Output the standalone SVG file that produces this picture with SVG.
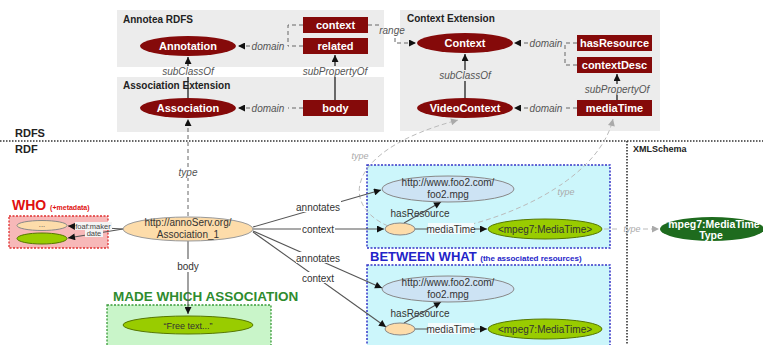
<svg xmlns="http://www.w3.org/2000/svg" width="763" height="345" viewBox="0 0 763 345">
<defs>
<marker id="ah" viewBox="0 0 10 10" refX="10" refY="5" markerWidth="8" markerHeight="7" markerUnits="userSpaceOnUse" orient="auto"><path d="M0,0 L10,5 L0,10 z" fill="#111"/></marker>
<marker id="ahg" viewBox="0 0 10 10" refX="10" refY="5" markerWidth="8" markerHeight="7" markerUnits="userSpaceOnUse" orient="auto"><path d="M0,0 L10,5 L0,10 z" fill="#aaa"/></marker>
</defs>
<style>
.panel{fill:#ececec}
.cls{fill:#850a0a}
.wt{font-family:"Liberation Sans",Arial,sans-serif;font-weight:bold;font-size:11px;fill:#fff;text-anchor:middle}
.pt{font-family:"Liberation Sans",Arial,sans-serif;font-weight:bold;font-size:10px;fill:#222}
.it{font-family:"Liberation Sans",Arial,sans-serif;font-style:italic;font-size:10px;fill:#555;text-anchor:middle}
.git{font-family:"Liberation Sans",Arial,sans-serif;font-style:italic;font-size:9px;fill:#aaa;text-anchor:middle}
.t{font-family:"Liberation Sans",Arial,sans-serif;font-size:10px;fill:#333;text-anchor:middle}
.ts{font-family:"Liberation Sans",Arial,sans-serif;font-size:7.5px;fill:#444;text-anchor:middle}
.dl{stroke:#666;stroke-width:1;stroke-dasharray:4,3;fill:none}
.sl{stroke:#222;stroke-width:1.3;fill:none}
.ln{stroke:#555;stroke-width:1.1;fill:none}
.gd{stroke:#bbb;stroke-width:1;stroke-dasharray:5,3;fill:none}
.sep{stroke:#333;stroke-width:1.6;stroke-dasharray:1.5,1.5;fill:none}
</style>

<!-- panels -->
<rect class="panel" x="117" y="10" width="267" height="57"/>
<rect class="panel" x="117" y="77" width="267" height="55"/>
<rect class="panel" x="400" y="10" width="260" height="121"/>
<text class="pt" x="123" y="23">Annotea RDFS</text>
<text class="pt" x="123" y="89">Association Extension</text>
<text class="pt" x="407" y="22">Context Extension</text>

<!-- separators -->
<line class="sep" x1="0" y1="141" x2="763" y2="141"/>
<line class="sep" x1="627" y1="141" x2="627" y2="345"/>
<text class="pt" x="15" y="137" style="font-size:11px">RDFS</text>
<text class="pt" x="15" y="153" style="font-size:11px">RDF</text>
<text class="pt" x="633" y="152" style="font-size:9px">XMLSchema</text>

<!-- lower boxes -->
<rect x="9" y="216" width="99" height="32" fill="#f7b8b8" stroke="#e03030" stroke-width="1.3" stroke-dasharray="2,1.5"/>
<text x="12" y="210" font-family="Liberation Sans, Arial, sans-serif" font-weight="bold" font-size="14px" fill="#e01010">WHO <tspan font-size="7px">(+metadata)</tspan></text>
<rect x="107" y="305" width="164" height="45" fill="#c9f5c9" stroke="#3a9a3a" stroke-width="1.3" stroke-dasharray="2,1.5"/>
<text x="113" y="301" font-family="Liberation Sans, Arial, sans-serif" font-weight="bold" font-size="13.5px" fill="#2e8b2e">MADE WHICH ASSOCIATION</text>
<rect x="367" y="165" width="243" height="83" fill="#ccf6fb" stroke="#3535c8" stroke-width="1.5" stroke-dasharray="2,1.5"/>
<rect x="367" y="265" width="243" height="85" fill="#ccf6fb" stroke="#3535c8" stroke-width="1.5" stroke-dasharray="2,1.5"/>
<text x="370" y="261" font-family="Liberation Sans, Arial, sans-serif" font-weight="bold" font-size="13px" fill="#2323c8">BETWEEN WHAT <tspan font-size="8px">(the associated resources)</tspan></text>

<!-- connectors -->
<g id="connectors">
  <!-- Annotea -->
  <path class="dl" d="M303,46 H288"/>
  <path class="dl" d="M250,46 H238" marker-end="url(#ah)"/>
  <text class="it" x="268" y="49.5">domain</text>
  <path class="dl" d="M303,25 H288 V46"/>
  <path class="dl" d="M368,25 H381"/>
  <text class="it" x="392" y="34">range</text>
  <path class="dl" d="M395,38 V43 H416" marker-end="url(#ah)"/>
  <path class="dl" d="M303,108 H288"/>
  <path class="dl" d="M250,108 H238" marker-end="url(#ah)"/>
  <text class="it" x="268" y="111.5">domain</text>
  <path class="sl" d="M188,98 V77"/>
  <path class="sl" d="M188,66 V57" marker-end="url(#ah)"/>
  <text class="it" x="188" y="75">subClassOf</text>
  <path class="sl" d="M335,100 V77"/>
  <path class="sl" d="M335,66 V55" marker-end="url(#ah)"/>
  <text class="it" x="335" y="75">subPropertyOf</text>
  <!-- Context -->
  <path class="dl" d="M577,43 H565"/>
  <path class="dl" d="M528,43 H514" marker-end="url(#ah)"/>
  <text class="it" x="546" y="46.5">domain</text>
  <path class="dl" d="M577,65 H565 V43"/>
  <path class="dl" d="M577,108 H565"/>
  <path class="dl" d="M528,108 H514" marker-end="url(#ah)"/>
  <text class="it" x="546" y="111.5">domain</text>
  <path class="sl" d="M465,98 V81"/>
  <path class="sl" d="M465,70 V54" marker-end="url(#ah)"/>
  <text class="it" x="465" y="78.5">subClassOf</text>
  <path class="sl" d="M617,100 V95"/>
  <path class="sl" d="M617,84 V74" marker-end="url(#ah)"/>
  <text class="it" x="617" y="93">subPropertyOf</text>
  <!-- type to Association -->
  <path class="dl" d="M188,216 V178"/>
  <path class="dl" d="M188,167 V119" marker-end="url(#ah)"/>
  <text class="it" x="188" y="175.5">type</text>
  <!-- gray type curves -->
  <path class="gd" d="M388,226 C340,205 345,150 458,120" marker-end="url(#ahg)"/>
  <rect x="350" y="150" width="20" height="11" fill="#fff"/>
  <text class="git" x="360" y="159">type</text>
  <path class="gd" d="M455,228 C520,215 600,175 613,119" marker-end="url(#ahg)"/>
  <rect x="556" y="186" width="20" height="11" fill="#ccf6fb"/>
  <text class="git" x="566" y="195">type</text>
  <!-- WHO -->
  <path class="ln" d="M123,229 L68,226" marker-end="url(#ah)"/>
  <path class="ln" d="M123,229 L68,238" marker-end="url(#ah)"/>
  <rect x="75" y="222" width="37" height="8" fill="#f4f4f4"/>
  <text class="ts" x="93" y="228.5">foaf:maker</text>
  <rect x="85" y="230" width="18" height="7" fill="#f4f4f4"/>
  <text class="ts" x="94" y="236">date</text>
  <!-- body -->
  <path class="ln" d="M188,241 V259"/>
  <path class="ln" d="M188,272 V314" marker-end="url(#ah)"/>
  <text class="t" x="188" y="270">body</text>
  <!-- annotates/context -->
  <path class="ln" d="M253,227 L381,190" marker-end="url(#ah)"/>
  <path class="ln" d="M253,229 L384,229" marker-end="url(#ah)"/>
  <path class="ln" d="M253,231 L382,288" marker-end="url(#ah)"/>
  <path class="ln" d="M253,232 L386,327" marker-end="url(#ah)"/>
  <rect x="296" y="201" width="45" height="11" fill="#fff"/>
  <text class="t" x="318" y="210.5">annotates</text>
  <rect x="301" y="223" width="34" height="11" fill="#fff"/>
  <text class="t" x="318" y="232.5">context</text>
  <rect x="296" y="252" width="45" height="11" fill="#fff"/>
  <text class="t" x="318" y="261.5">annotates</text>
  <rect x="301" y="272" width="34" height="11" fill="#fff"/>
  <text class="t" x="318" y="281.5">context</text>
  <!-- box 1 internal -->
  <path class="ln" d="M404,223 L441,202" marker-end="url(#ah)"/>
  <text class="t" x="420" y="216.5">hasResource</text>
  <path class="ln" d="M415,229 L487,229" marker-end="url(#ah)"/>
  <rect x="428" y="223" width="46" height="11" fill="#f4fbfc"/>
  <text class="t" x="451" y="232.5">mediaTime</text>
  <!-- box 2 internal -->
  <path class="ln" d="M404,323 L441,302" marker-end="url(#ah)"/>
  <text class="t" x="420" y="316.5">hasResource</text>
  <path class="ln" d="M415,329 L487,329" marker-end="url(#ah)"/>
  <rect x="428" y="323" width="46" height="11" fill="#f4fbfc"/>
  <text class="t" x="451" y="332.5">mediaTime</text>
  <!-- type to XMLSchema -->
  <path class="gd" d="M604,229 H620"/>
  <path class="gd" d="M643,229 H659" marker-end="url(#ahg)"/>
  <text class="git" x="632" y="232">type</text>
</g>

<!-- RDFS nodes -->
<g id="Annotation"><ellipse class="cls" cx="188" cy="46" rx="48" ry="10"/><text class="wt" x="188" y="50">Annotation</text></g>
<g id="Association"><ellipse class="cls" cx="188" cy="108" rx="48" ry="10"/><text class="wt" x="188" y="112">Association</text></g>
<g id="context"><rect class="cls" x="303" y="17" width="65" height="16"/><text class="wt" x="335.5" y="29">context</text></g>
<g id="related"><rect class="cls" x="303" y="38" width="65" height="16"/><text class="wt" x="335.5" y="50">related</text></g>
<g id="body"><rect class="cls" x="303" y="100" width="65" height="16"/><text class="wt" x="335.5" y="112">body</text></g>
<g id="Context"><ellipse class="cls" cx="465" cy="43" rx="48" ry="10"/><text class="wt" x="465" y="47">Context</text></g>
<g id="VideoContext"><ellipse class="cls" cx="465" cy="108" rx="48" ry="10"/><text class="wt" x="465" y="112">VideoContext</text></g>
<g id="hasResource"><rect class="cls" x="577" y="35" width="75" height="16"/><text class="wt" x="614.5" y="47">hasResource</text></g>
<g id="contextDesc"><rect class="cls" x="577" y="57" width="75" height="16"/><text class="wt" x="614.5" y="69">contextDesc</text></g>
<g id="mediaTime"><rect class="cls" x="577" y="100" width="75" height="16"/><text class="wt" x="614.5" y="112">mediaTime</text></g>

<!-- RDF nodes -->
<g id="Association_1"><ellipse cx="188" cy="229" rx="65" ry="12" fill="#fddcaa" stroke="#999"/><text class="t" x="188" y="226">http://annoServ.org/</text><text class="t" x="188" y="238">Association_1</text></g>
<g id="who1"><ellipse cx="42" cy="225.5" rx="25" ry="5" fill="#fddcaa" stroke="#888"/><text class="ts" x="42" y="227" fill="#999">...</text></g>
<g id="who2"><ellipse cx="42" cy="238.5" rx="25" ry="5.5" fill="#99cc00" stroke="#557700"/></g>
<g id="freetext"><ellipse cx="188" cy="325" rx="65" ry="9" fill="#99cc00" stroke="#557700"/><text class="t" x="188" y="328.5" style="font-size:9px">“Free text...”</text></g>
<g id="foo2a"><ellipse cx="448" cy="189" rx="66" ry="13" fill="#cde3f4" stroke="#888"/><text class="t" x="448" y="186">http://www.foo2.com/</text><text class="t" x="448" y="198">foo2.mpg</text></g>
<g id="ctxa"><ellipse cx="400" cy="229" rx="15" ry="6" fill="#fddcaa" stroke="#888"/></g>
<g id="mta"><ellipse cx="545" cy="229" rx="57" ry="10" fill="#99cc00" stroke="#557700"/><text class="t" x="545" y="232.5">&lt;mpeg7:MediaTime&gt;</text></g>
<g id="foo2b"><ellipse cx="448" cy="289" rx="66" ry="13" fill="#cde3f4" stroke="#888"/><text class="t" x="448" y="286">http://www.foo2.com/</text><text class="t" x="448" y="298">foo2.mpg</text></g>
<g id="ctxb"><ellipse cx="400" cy="329" rx="15" ry="6" fill="#fddcaa" stroke="#888"/></g>
<g id="mtb"><ellipse cx="545" cy="329" rx="57" ry="10" fill="#99cc00" stroke="#557700"/><text class="t" x="545" y="332.5">&lt;mpeg7:MediaTime&gt;</text></g>
<g id="mtType"><ellipse cx="712" cy="229" rx="52" ry="12" fill="#1e6b1e"/><text class="wt" x="714" y="227.5" style="font-size:10.5px">mpeg7:MediaTime</text><text class="wt" x="711" y="239" style="font-size:10.5px">Type</text></g>
</svg>
